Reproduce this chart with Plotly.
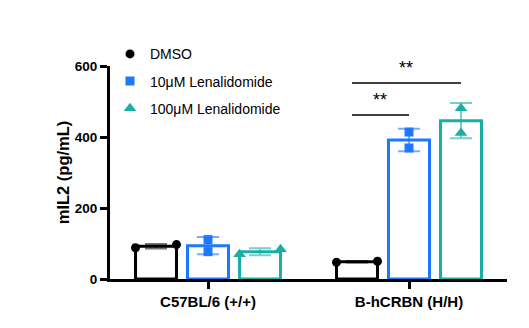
import numpy as np
import plotly.graph_objects as go

# ---- data ----
groups = ["C57BL/6 (+/+)", "B-hCRBN (H/H)"]
treatments = ["DMSO", "10μM Lenalidomide", "100μM Lenalidomide"]
dmso_pts = [[88, 97], [47, 50]]
len10_pts = [[111, 77], [414, 369]]
len100_pts = [[70, 84], [481, 411]]
y_ticks = [0, 200, 400, 600]
sig_labels = ["**", "**"]

# ---- style ----
colors = ["#000000", "#1E78FF", "#1AAFA5"]
err_colors = ["rgba(0,0,0,0.55)", "rgba(30,120,255,0.6)", "rgba(26,175,165,0.6)"]
symbols = ["circle", "square", "triangle-up"]
msizes = [9, 9, 11]
step = 0.2587
bw = 0.204
offsets = [-step, 0.0, step]
FONT = "Liberation Sans, Arial, sans-serif"

series = [dmso_pts, len10_pts, len100_pts]
fig = go.Figure()

for ti, pts in enumerate(series):
    xs, means, sds = [], [], []
    for gi, p in enumerate(pts):
        xs.append(gi + offsets[ti])
        means.append(float(np.mean(p)))
        sds.append(float(np.std(p, ddof=1)))
    fig.add_trace(go.Bar(
        x=xs, y=means, width=bw,
        marker=dict(color="white", line=dict(color=colors[ti], width=3)),
        error_y=dict(type="data", array=sds, color=err_colors[ti], thickness=2, width=11),
        showlegend=False, hoverinfo="skip"))

for ti, pts in enumerate(series):
    px, py = [], []
    for gi, p in enumerate(pts):
        spread = abs(p[0] - p[1]) < 15
        for k, v in enumerate(p):
            dx = (-bw / 2 if k == 0 else bw / 2) if spread else 0.0
            px.append(gi + offsets[ti] + dx)
            py.append(v)
    fig.add_trace(go.Scatter(
        x=px, y=py, mode="markers", name=treatments[ti],
        legendgroup=treatments[ti],
        marker=dict(symbol=symbols[ti], size=msizes[ti], color=colors[ti],
                    line=dict(width=0)),
        cliponaxis=False))

# significance brackets
sig_levels = [462, 552]
sig_targets = [1, 2]
for lvl, tgt, lab in zip(sig_levels, sig_targets, sig_labels):
    x0 = 1 + offsets[0] - 0.025
    x1 = 1 + offsets[tgt]
    fig.add_shape(type="line", x0=x0, x1=x1, y0=lvl, y1=lvl,
                  line=dict(color="black", width=1.5))
    fig.add_annotation(x=(x0 + x1) / 2, y=lvl, text=lab, showarrow=False,
                       yshift=15, font=dict(family=FONT, size=18, color="black"))

fig.update_layout(
    width=529, height=328,
    margin=dict(l=110, r=22, t=66, b=49),
    paper_bgcolor="white", plot_bgcolor="white",
    barmode="overlay",
    font=dict(family=FONT, color="black"),
    legend=dict(x=0.0, y=1.13, xanchor="left", yanchor="top",
                font=dict(family=FONT, size=14, color="black"),
                tracegroupgap=6, bgcolor="rgba(0,0,0,0)"),
    xaxis=dict(range=[-0.4876, 1.4876], tickvals=[0, 1], ticktext=groups,
               showline=True, linecolor="black", linewidth=3,
               ticks="outside", ticklen=7, tickwidth=3, tickcolor="black",
               showgrid=False, zeroline=False,
               tickfont=dict(family=FONT, size=15, color="black", weight="bold")),
    yaxis=dict(range=[0, 600], tickvals=y_ticks,
               showline=True, linecolor="black", linewidth=3,
               ticks="outside", ticklen=7, tickwidth=3, tickcolor="black",
               showgrid=False, zeroline=False,
               tickfont=dict(family=FONT, size=13.5, color="black", weight="bold"),
               title=dict(text="mIL2 (pg/mL)", standoff=1,
                          font=dict(family=FONT, size=16.5, color="black", weight="bold"))),
)

fig.write_html("out.html")
